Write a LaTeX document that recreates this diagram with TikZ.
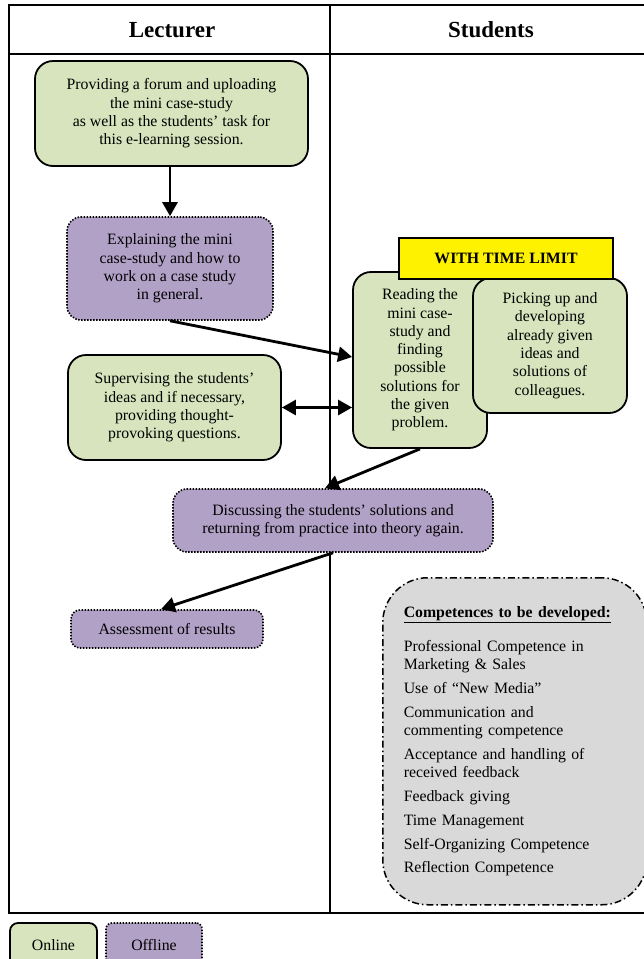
\documentclass[tikz,border=0pt]{standalone}
\usepackage{fontspec}
\setmainfont{Liberation Serif}
\usepackage{xcolor}
\usepackage{tikz}
\usetikzlibrary{arrows.meta}
\definecolor{onlgreen}{HTML}{D7E4BD}
\definecolor{offpurple}{HTML}{B2A1C7}
\definecolor{compgray}{HTML}{D9D9D9}
\tikzset{
  txt/.style={font=\fontsize{15.8}{18.3}\selectfont, align=center, inner sep=0pt},
  onl/.style={txt, draw, line width=1.8pt, rounded corners=18pt, fill=onlgreen},
  offl/.style={txt, draw, line width=1.6pt, dash pattern=on 1.5pt off 1.5pt,
               rounded corners=14pt, fill=offpurple},
  hdr/.style={font=\fontsize{23}{27}\selectfont\bfseries},
  arr/.style={-{Triangle[length=14pt,width=15pt]}, line width=2.8pt},
  dbl/.style={{Triangle[length=14pt,width=15pt]}-{Triangle[length=14pt,width=15pt]}, line width=2.8pt}
}
\begin{document}
\begin{tikzpicture}[x=1pt, y=-1pt]
  \useasboundingbox (0,0) rectangle (644,959);
  % Table
  \draw[line width=2pt] (9,5) rectangle (652,913);
  \draw[line width=2pt] (9,54) -- (652,54);
  \draw[line width=2pt] (330,5) -- (330,913);
  \node[hdr] (lect) at (172,30) {Lecturer};
  \node[hdr] (stud) at (491,30) {Students};
  % Lecturer column
  \node[onl, minimum width=273pt, minimum height=105pt] (prov) at (171.5,113.5) {Providing a forum and uploading\\the mini case-study\\as well as the students' task for\\this e-learning session.};
  \node[offl, minimum width=206pt, minimum height=103pt] (expl) at (170,268.5) {Explaining the mini\\case-study and how to\\work on a case study\\in general.};
  \node[onl, minimum width=213pt, minimum height=105pt] (sup) at (174.5,407.5) {Supervising the students'\\ideas and if necessary,\\providing thought-\\provoking questions.};
  % Students column
  \node[onl, minimum width=134pt, minimum height=176pt] (read) at (420,360) {Reading the\\mini case-\\study and\\finding\\possible\\solutions for\\the given\\problem.};
  \node[onl, minimum width=154pt, minimum height=135pt] (pick) at (550,345.5) {Picking up and\\developing\\already given\\ideas and\\solutions of\\colleagues.};
  \node[draw, line width=1.4pt, fill=yellow, minimum width=214pt, minimum height=41pt,
        font=\fontsize{15.8}{18}\selectfont\bfseries] (limit) at (506,258.5) {WITH TIME LIMIT};
  % Bottom
  \node[offl, minimum width=320pt, minimum height=63pt] (disc) at (333,520.5) {Discussing the students' solutions and\\returning from practice into theory again.};
  \node[offl, rounded corners=9pt, minimum width=192pt, minimum height=38pt] (assess) at (167,629) {Assessment of results};
  \node[txt, draw, fill=compgray, line width=1.5pt, dash pattern=on 7pt off 3pt on 1.5pt off 3pt,
        rounded corners=45pt, align=left, text width=222pt, inner xsep=21pt,
        minimum height=327pt, anchor=north west] (comp) at (382,577) {\underline{\textbf{Competences to be developed:}}\\[16pt]
    Professional Competence in\\Marketing \& Sales\\[5.5pt]
    Use of ``New Media''\\[5.5pt]
    Communication and\\commenting competence\\[5.5pt]
    Acceptance and handling of\\received feedback\\[5.5pt]
    Feedback giving\\[5.5pt]
    Time Management\\[5.5pt]
    Self-Organizing Competence\\[5.5pt]
    Reflection Competence};
  % Legend
  \node[onl, rounded corners=8pt, minimum width=87pt, minimum height=44pt] (online) at (53.5,945) {Online};
  \node[offl, rounded corners=6pt, minimum width=96pt, minimum height=44pt] (offline) at (154,945) {Offline};
  % Connectors
  \draw[arr] (prov.south -| expl.north) -- (expl.north);
  \draw[arr] (expl.south) -- ([yshift=3pt]read.west);
  \draw[dbl] (sup.east) -- (sup.east -| read.west);
  \draw[arr] (read.south) -- ([xshift=-8pt]disc.north);
  \draw[arr] (disc.south) -- ([xshift=-6pt]assess.north);
\end{tikzpicture}
\end{document}
